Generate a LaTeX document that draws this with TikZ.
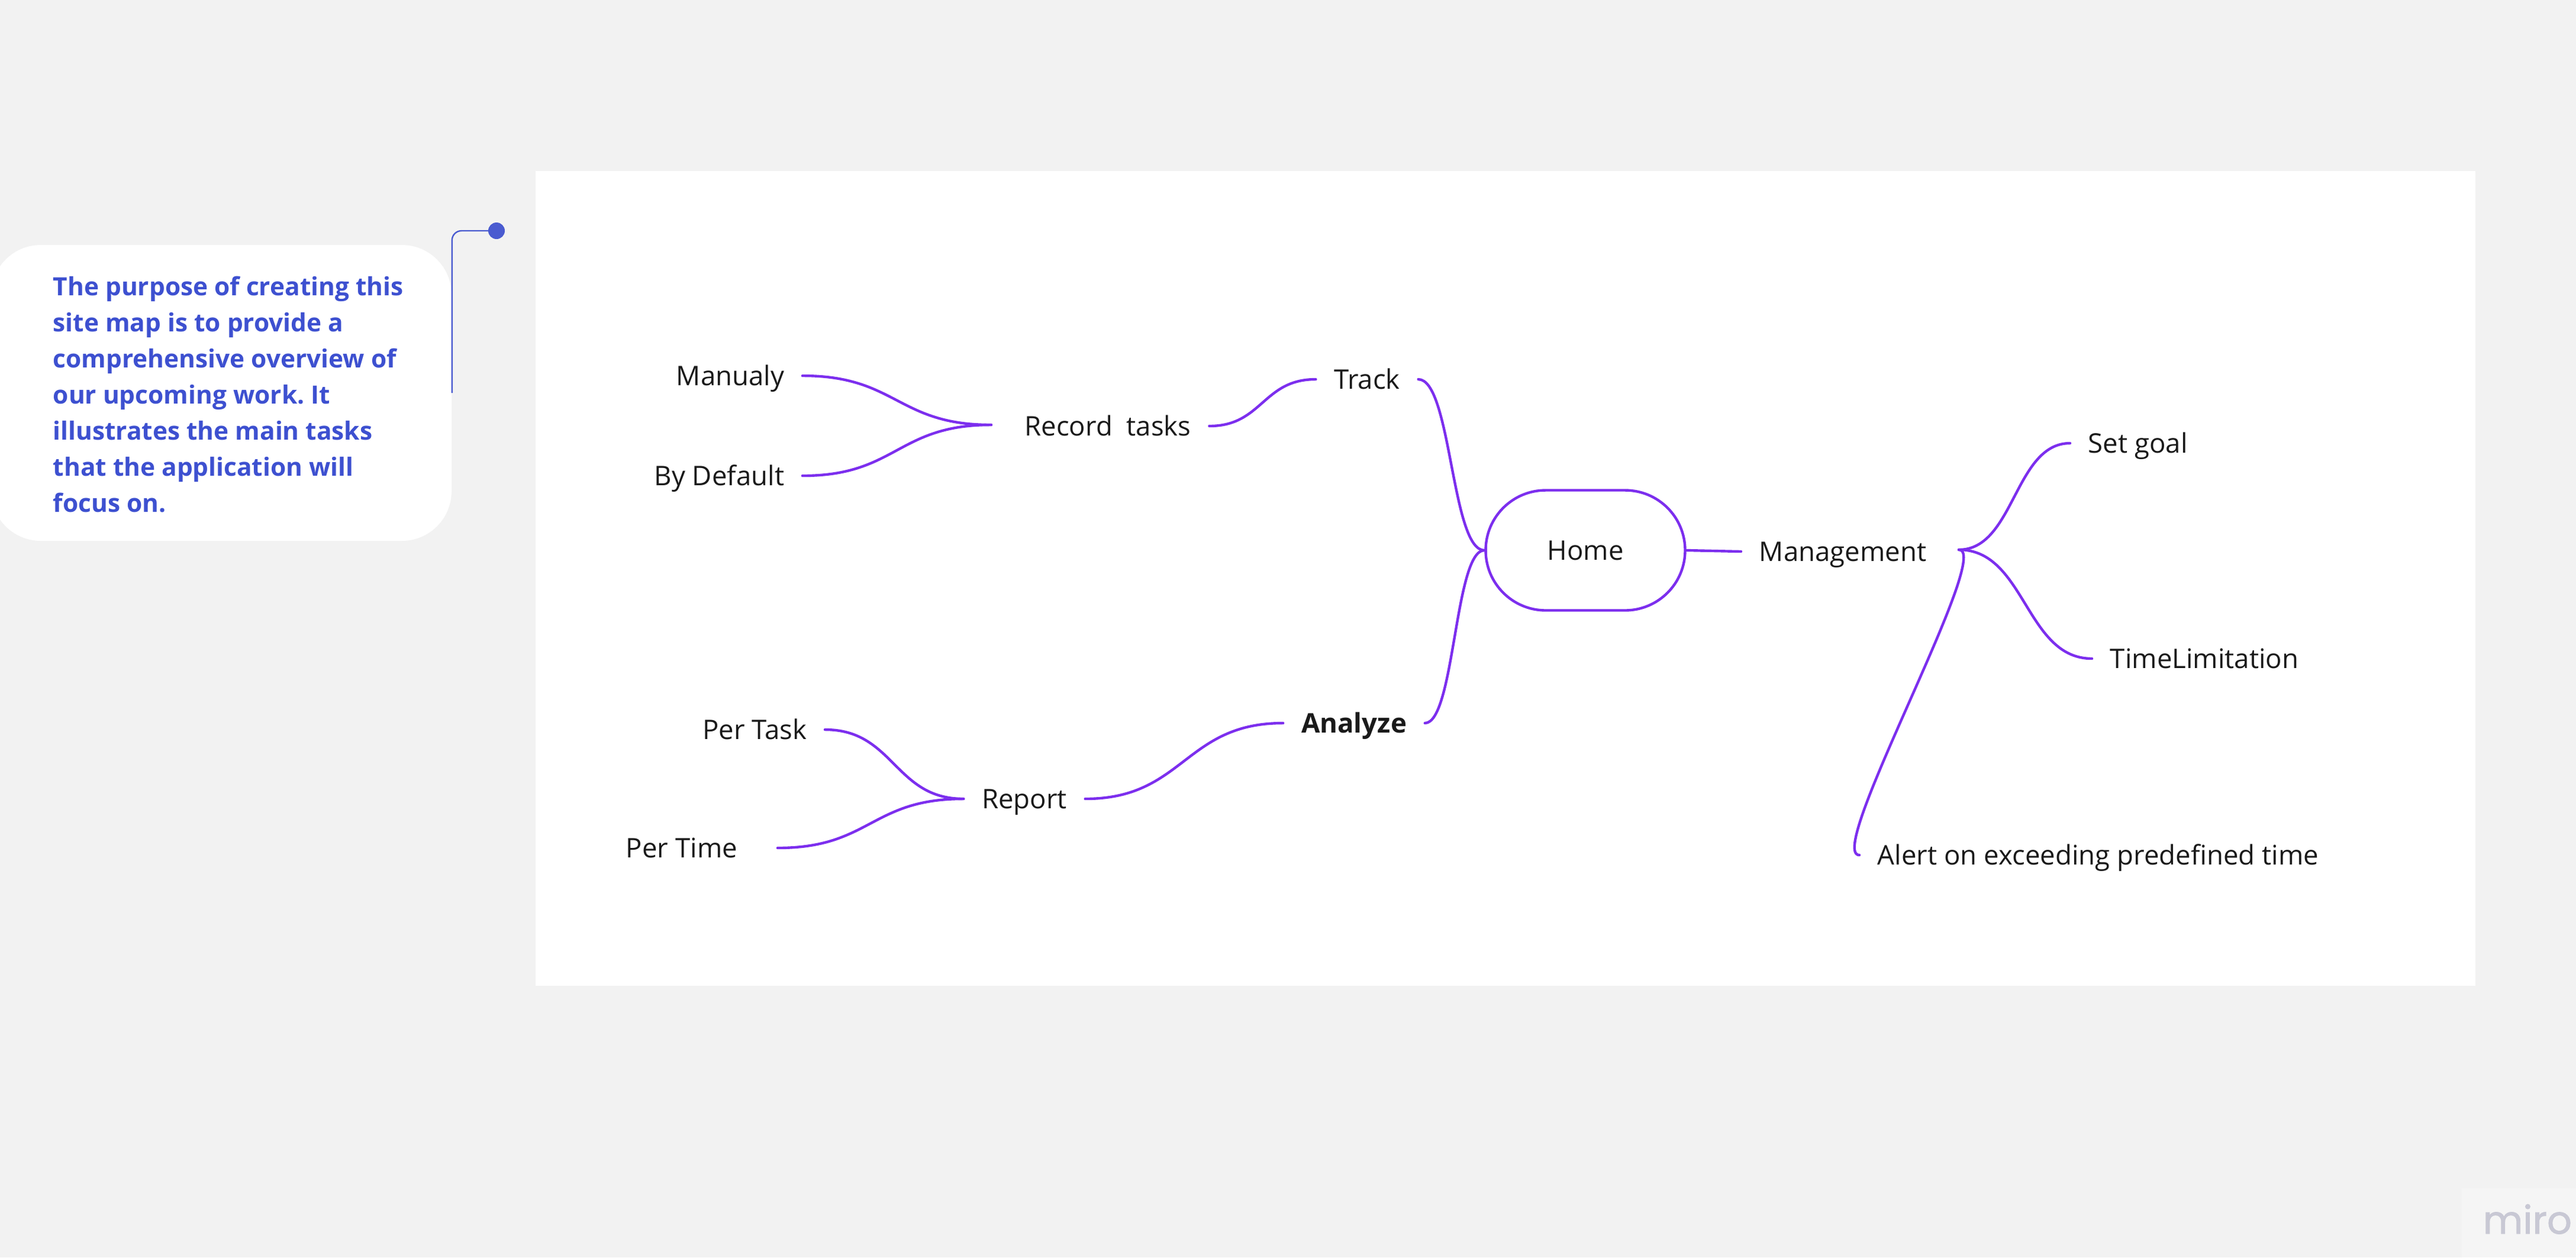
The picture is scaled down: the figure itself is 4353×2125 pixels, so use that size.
\documentclass[tikz,border=0pt]{standalone}
\usepackage{fontspec}
\setmainfont{Open Sans}
\newfontfamily\miroFont{Poppins}[FakeBold=1.3]
\usetikzlibrary{shapes.misc,calc}
\definecolor{bg}{RGB}{242,242,242}
\definecolor{mmline}{RGB}{124,46,238}
\definecolor{notetxt}{RGB}{61,80,208}
\definecolor{noteline}{RGB}{74,91,208}
\definecolor{dark}{RGB}{26,26,26}
\definecolor{miroc}{RGB}{200,200,212}
\definecolor{mirobox}{RGB}{245,245,245}
\frenchspacing
\begin{document}
\begin{tikzpicture}[x=0.25pt,y=-0.25pt,
  lbl/.style={font=\fontsize{11.4}{13.5}\selectfont, text=dark, inner xsep=7.5pt, inner ysep=0pt, text height=8.14pt, text depth=0pt},
  mm/.style={draw=mmline, line width=1.1pt, line cap=round},
  sc/.style={to path={let \p1=(\tikztostart), \p2=(\tikztotarget) in .. controls ({0.5*\x1+0.5*\x2},\y1) and ({0.5*\x1+0.5*\x2},\y2) .. (\tikztotarget)}}
]
\fill[bg] (0,0) rectangle (4353,2125);
\useasboundingbox (0,0) rectangle (4353,2125);
\fill[white] (905,289) rectangle (4183,1666);
% miro mark
\fill[mirobox] (4160,2008) rectangle (4353,2125);
\node[font=\miroFont\fontsize{16.4}{18}\selectfont, text=miroc, anchor=base west, inner sep=0pt] (miro) at (4195,2085) {miro};

% note
\node[fill=white, rectangle, rounded corners=21pt, minimum width=194.5pt, minimum height=125pt, inner sep=0pt] (note) at (374,664) {};
\node[anchor=north west, inner sep=0pt, align=left, text=notetxt, font=\bfseries\fontsize{10.6}{15.25}\selectfont] (notetext) at (89,466)
 {The purpose of creating this\\site map is to provide a\\comprehensive overview of\\our upcoming work. It\\illustrates the main tasks\\that the application will\\focus on.};
\node[circle, fill=noteline, minimum size=7pt, inner sep=0pt] (dot) at (839,390) {};
\draw[noteline, line width=0.6pt, rounded corners=4pt] (note.east) |- (dot.center);

% mind map
\node[lbl, anchor=east] (manualy) at (1356,635) {Manualy};
\node[lbl, anchor=east] (bydefault) at (1356,804) {By Default};
\node[lbl] (record) at (1872,720) {Record~ tasks};
\coordinate (recfork) at (1675,718);
\node[lbl] (track) at (2310,641) {Track};
\node[rounded rectangle, draw=mmline, line width=1.1pt, minimum width=84.25pt, minimum height=50.75pt, inner sep=0pt, font=\fontsize{11.4}{13.5}\selectfont, text=dark] (home) at (2679,930) {Home};
\node[lbl, anchor=west] (mgmt) at (2942,932) {Management};
\coordinate (mfork) at (3310,929);
\node[lbl, anchor=west] (setgoal) at (3498,749) {Set goal};
\node[lbl, anchor=west] (timelim) at (3535,1113) {TimeLimitation};
\node[lbl, anchor=west] (alert) at (3142,1445) {Alert on exceeding predefined time};
\node[lbl, font=\bfseries\fontsize{11.4}{13.5}\selectfont] (analyze) at (2288,1222) {Analyze};
\node[lbl] (report) at (1731,1350) {Report};
\node[lbl, anchor=east] (pertask) at (1394,1233) {Per Task};
\node[lbl, anchor=east, inner xsep=16.75pt] (pertime) at (1314,1433) {Per Time};

\draw[mm] (manualy.east) to[sc] (recfork);
\draw[mm] (bydefault.east) to[sc] (recfork);
\draw[mm] (record.east) to[sc] (track.west);
\draw[mm] (track.east) to[sc] (home.west);
\draw[mm] (analyze.east) to[sc] (home.west);
\draw[mm] (home.east) -- (mgmt.west);
\draw[mm] (mfork) to[sc] (setgoal.west);
\draw[mm] (mfork) to[sc] (timelim.west);
\draw[mm] (mfork) .. controls +(60,0) and +(-60,0) .. (alert.west);
\draw[mm] (pertask.east) to[sc] (report.west);
\draw[mm] (pertime.east) to[sc] (report.west);
\draw[mm] (report.east) to[sc] (analyze.west);
\end{tikzpicture}
\end{document}
